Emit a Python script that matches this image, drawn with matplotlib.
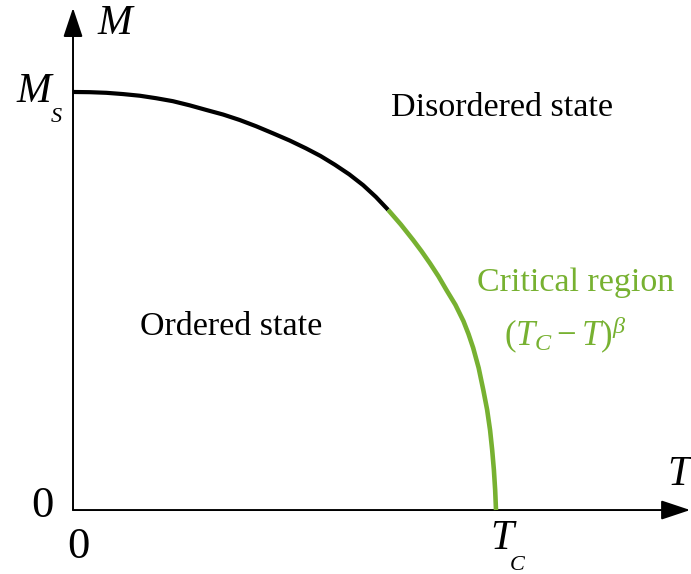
import numpy as np
import matplotlib
matplotlib.use("Agg")
import matplotlib.pyplot as plt

plt.rcParams["font.family"] = ["Liberation Serif", "DejaVu Serif"]
plt.rcParams["mathtext.fontset"] = "custom"
plt.rcParams["mathtext.rm"] = "Liberation Serif"
plt.rcParams["mathtext.it"] = "Liberation Serif:italic"
plt.rcParams["mathtext.bf"] = "Liberation Serif:bold"

# magnetisation curve (T / Tc, M / Ms)
T_ordered = [0.0, 0.04, 0.079, 0.118, 0.158, 0.197, 0.236, 0.276, 0.315, 0.355,
             0.394, 0.433, 0.473, 0.512, 0.551, 0.585, 0.619, 0.653, 0.686, 0.716, 0.745]
M_ordered = [1.0, 0.9995, 0.998, 0.995, 0.991, 0.985, 0.978, 0.968, 0.957, 0.946,
             0.933, 0.918, 0.901, 0.884, 0.865, 0.847, 0.826, 0.803, 0.777, 0.749, 0.718]

T_critical = [0.745, 0.775, 0.804, 0.824, 0.844, 0.864, 0.883, 0.904, 0.923, 0.935,
              0.946, 0.959, 0.970, 0.979, 0.986, 0.991, 0.995, 0.998, 1.0]
M_critical = [0.718, 0.683, 0.646, 0.619, 0.590, 0.559, 0.526, 0.491, 0.452, 0.421,
              0.388, 0.340, 0.287, 0.240, 0.191, 0.143, 0.096, 0.048, 0.0]

green = "#77b131"

fig = plt.figure(figsize=(6.91, 5.74), dpi=100)
ax = fig.add_axes([0, 0, 1, 1])
ax.set_xlim(-0.1726, 1.461)
ax.set_ylim(-0.153, 1.220)
ax.axis("off")

# axes with arrows
arrow = dict(arrowstyle="-|>,head_length=1.8,head_width=0.6", mutation_scale=10,
             lw=1.4, color="black", shrinkA=0, shrinkB=0)
ax.annotate("", xy=(0, 1.201), xytext=(0, 0), arrowprops=arrow)
ax.annotate("", xy=(1.459, 0), xytext=(0, 0), arrowprops=arrow)

ax.plot(T_ordered, M_ordered, color="black", lw=3, solid_capstyle="butt",
        solid_joinstyle="round", zorder=3)
ax.plot(T_critical, M_critical, color=green, lw=3.3, solid_capstyle="butt",
        solid_joinstyle="round", zorder=3)

# labels
ax.text(0.099, 1.163, "M", style="italic", fontsize=30, ha="center", va="center")
ax.text(-0.092, 1.0, "M", style="italic", fontsize=30, ha="center", va="center")
ax.text(-0.04, 0.940, "S", style="italic", fontsize=16, ha="center", va="center")
ax.text(1.433, 0.084, "T", style="italic", fontsize=30, ha="center", va="center")
ax.text(1.014, -0.069, "T", style="italic", fontsize=30, ha="center", va="center")
ax.text(1.05, -0.132, "C", style="italic", fontsize=16, ha="center", va="center")
ax.text(-0.073, 0.01, "0", fontsize=32, ha="center", va="center")
ax.text(0.012, -0.089, "0", fontsize=32, ha="center", va="center")

ax.text(1.014, 0.962, "Disordered state", fontsize=24.5, ha="center", va="center")
ax.text(0.374, 0.438, "Ordered state", fontsize=24.5, ha="center", va="center")
ax.text(1.187, 0.543, "Critical region", fontsize=24.5, color=green, ha="center", va="center")
ax.text(1.165, 0.419, r"$(T_C - T)^{\beta}$", fontsize=25, color=green, ha="center", va="center")

fig.savefig("out.png", dpi=100)
